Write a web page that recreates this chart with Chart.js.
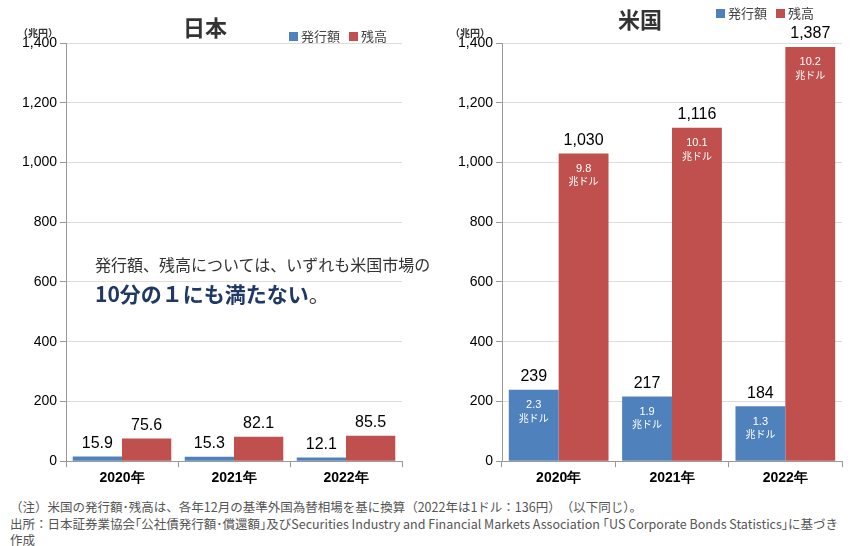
<!DOCTYPE html>
<html><head><meta charset="utf-8">
<script src="https://cdn.jsdelivr.net/npm/chart.js@4"></script>
<style>
body{margin:0;width:862px;height:546px;background:#fff;position:relative;overflow:hidden;font-family:"Noto Sans CJK JP",sans-serif;}
.abs{position:absolute;white-space:nowrap;}
.title{font-size:22px;font-weight:bold;color:#333;}
.leg{font-size:13px;color:#444;}
.sq{display:inline-block;width:9px;height:9px;margin-right:3px;}
.unit{font-size:10px;font-weight:bold;color:#333;}
.note{font-size:12.5px;color:#555;left:10px;line-height:16px;}
</style></head><body>
<div style="position:absolute;left:0;top:0;width:420px;height:490px"><canvas id="jp"></canvas></div>
<div style="position:absolute;left:430px;top:0;width:432px;height:490px"><canvas id="us"></canvas></div>
<div class="abs title" style="left:183px;top:10px">日本</div>
<div class="abs title" style="left:618px;top:2px">米国</div>
<div class="abs leg" style="left:289px;top:26px"><span class="sq" style="background:#4F81BD"></span>発行額 <span class="sq" style="background:#C0504D;margin-left:6px"></span>残高</div>
<div class="abs leg" style="left:716px;top:3px"><span class="sq" style="background:#4F81BD"></span>発行額 <span class="sq" style="background:#C0504D;margin-left:6px"></span>残高</div>
<div class="abs unit" style="left:18px;top:25px">（兆円）</div>
<div class="abs unit" style="left:450px;top:25px">（兆円）</div>
<div class="abs" style="left:95px;top:252px;font-size:16px;color:#333">発行額、残高については、いずれも米国市場の</div>
<div class="abs" style="left:95px;top:278px;font-size:21px;font-weight:bold;color:#1F3864">10分の１にも満たない<span style="font-weight:normal;color:#333">。</span></div>
<div class="abs note" style="top:499px">（注）米国の発行額･残高は、各年12月の基準外国為替相場を基に換算（2022年は1ドル：136円）　（以下同じ）。</div>
<div class="abs note" style="top:516px;white-space:normal;width:830px">出所：日本証券業協会｢公社債発行額･償還額｣及びSecurities Industry and Financial Markets Association ｢US Corporate Bonds Statistics｣に基づき作成</div>
<script>
const years = ['2020年', '2021年', '2022年'];
const jpIssue = [15.9, 15.3, 12.1];
const jpBalance = [75.6, 82.1, 85.5];
const usIssue = [239, 217, 184];
const usBalance = [1030, 1116, 1387];
const usIssueUsd = ['2.3', '1.9', '1.3'];
const usBalanceUsd = ['9.8', '10.1', '10.2'];

const labelPlugin = {
    id: 'barLabels',
    afterDatasetsDraw(chart, args, opts) {
        const ctx = chart.ctx;
        ctx.save();
        ctx.textAlign = 'center';
        chart.data.datasets.forEach((ds, di) => {
            chart.getDatasetMeta(di).data.forEach((bar, i) => {
                const v = ds.data[i];
                ctx.fillStyle = '#000';
                ctx.font = '16px "Liberation Sans Narrow", "Liberation Sans", sans-serif';
                ctx.textBaseline = 'bottom';
                ctx.fillText(opts.fmt(v), bar.x, bar.y - 5);
                if (opts.inner) {
                    ctx.fillStyle = '#fff';
                    ctx.textBaseline = 'top';
                    ctx.font = '11px "Liberation Sans", sans-serif';
                    ctx.fillText(opts.inner[di][i], bar.x, bar.y + 10);
                    ctx.font = '10px "Noto Sans CJK JP", sans-serif';
                    ctx.fillText('兆ドル', bar.x, bar.y + 23);
                }
            });
        });
        ctx.restore();
    }
};

function makeChart(id, issue, balance, yWidth, padRight, fmt, inner) {
    new Chart(document.getElementById(id), {
        type: 'bar',
        data: {
            labels: years,
            datasets: [
                { label: '発行額', data: issue, backgroundColor: '#4F81BD', categoryPercentage: 0.88, barPercentage: 1 },
                { label: '残高', data: balance, backgroundColor: '#C0504D', categoryPercentage: 0.88, barPercentage: 1 }
            ]
        },
        options: {
            responsive: true,
            maintainAspectRatio: false,
            animation: false,
            layout: { padding: { top: 43, right: padRight } },
            plugins: { legend: { display: false }, tooltip: { enabled: false }, barLabels: { fmt: fmt, inner: inner } },
            scales: {
                x: {
                    grid: { offset: true, drawOnChartArea: false, color: '#999', tickLength: 6 },
                    border: { color: '#999' },
                    ticks: { color: '#000', font: { size: 14, weight: 'bold', family: '"Liberation Sans", sans-serif' } }
                },
                y: {
                    min: 0, max: 1400,
                    afterFit: s => { s.width = yWidth; },
                    grid: { color: '#ddd', tickLength: 6, tickColor: '#999' },
                    border: { color: '#999' },
                    ticks: { stepSize: 200, color: '#000', font: { size: 14, family: '"Liberation Sans Narrow", "Liberation Sans", sans-serif' },
                             callback: v => v.toLocaleString('en-US') }
                }
            }
        },
        plugins: [labelPlugin]
    });
}

makeChart('jp', jpIssue, jpBalance, 66, 18, v => v.toFixed(1), null);
makeChart('us', usIssue, usBalance, 72, 20, v => v.toLocaleString('en-US'), [usIssueUsd, usBalanceUsd]);
</script>
</body></html>
